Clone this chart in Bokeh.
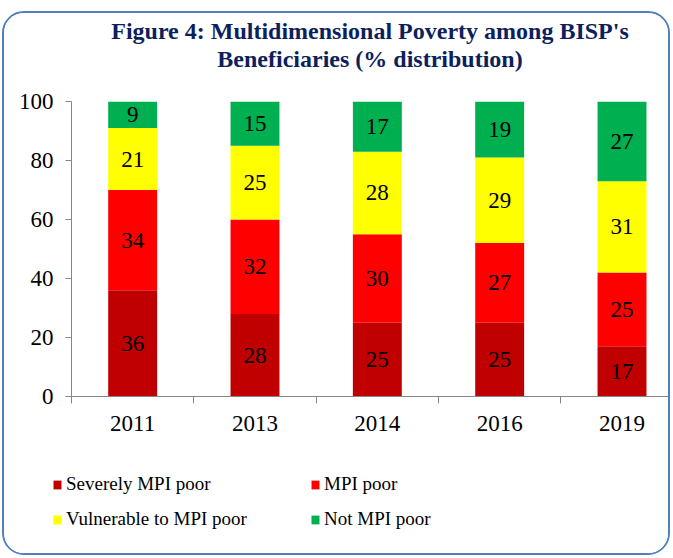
from bokeh.plotting import figure
from bokeh.layouts import column, row
from bokeh.models import Range1d, FixedTicker, Title, Legend, LegendItem, ColumnDataSource
from bokeh.core.properties import value
from bokeh.embed import file_html
from bokeh.resources import INLINE

years = ["2011", "2013", "2014", "2016", "2019"]
severe = [36, 28, 25, 25, 17]
mpi_poor = [34, 32, 30, 27, 25]
vulnerable = [21, 25, 28, 29, 31]
not_poor = [9, 15, 17, 19, 27]
series_names = ["Severely MPI poor", "MPI poor", "Vulnerable to MPI poor", "Not MPI poor"]
colors = ["#C00000", "#FF0000", "#FFFF00", "#00B050"]
y_ticks = [0, 20, 40, 60, 80, 100]

FONT = "Liberation Serif"
TITLE_COLOR = "#0D1F5C"
AXIS_COLOR = "#868686"

xpos = [i + 0.5 for i in range(len(years))]
keys = ["severe", "mpi", "vuln", "notp"]
src = ColumnDataSource(dict(x=xpos, severe=severe, mpi=mpi_poor, vuln=vulnerable, notp=not_poor))

# ---------------- main chart ----------------
p = figure(width=664, height=437, output_backend="svg", toolbar_location=None,
           x_range=Range1d(0, 4.88), y_range=Range1d(0, 100),
           min_border_left=67, min_border_right=0, min_border_top=88, min_border_bottom=54)
p.outline_line_color = None
p.xgrid.visible = False
p.ygrid.visible = False
p.background_fill_color = "white"
p.border_fill_color = "white"

rs = p.vbar_stack(keys, x="x", width=0.4, color=colors, line_color=None, source=src)

lx, ly, lt = [], [], []
series = [severe, mpi_poor, vulnerable, not_poor]
for i in range(len(years)):
    base = 0
    for s in series:
        v = s[i]
        lx.append(xpos[i])
        ly.append(base + v / 2)
        lt.append(str(v))
        base += v
p.text(x=lx, y=ly, text=lt, text_align="center", text_baseline="middle",
       text_font=value(FONT), text_font_size="23px", text_color="black")

p.xaxis.ticker = FixedTicker(ticks=xpos, minor_ticks=list(range(len(years) + 1)))
p.xaxis.major_label_overrides = {x: y for x, y in zip(xpos, years)}
p.xaxis.major_tick_out = 0
p.xaxis.major_tick_in = 0
p.xaxis.minor_tick_out = 7
p.xaxis.minor_tick_in = 0
p.yaxis.ticker = FixedTicker(ticks=y_ticks)
p.yaxis.major_tick_out = 6
p.yaxis.major_tick_in = 0
for ax in (p.xaxis, p.yaxis):
    ax.axis_line_color = AXIS_COLOR
    ax.major_tick_line_color = AXIS_COLOR
    ax.minor_tick_line_color = AXIS_COLOR
    ax.major_label_text_font = FONT
    ax.major_label_text_font_size = "23px"
    ax.major_label_text_color = "black"
p.yaxis.minor_tick_line_color = None
p.xaxis.major_label_standoff = 12
p.yaxis.major_label_standoff = 12

spacer = Title(text=" ", align="center", text_font=FONT, text_font_size="24px", standoff=2)
t2 = Title(text="Beneficiaries (% distribution)", align="center", text_font=FONT,
           text_font_size="24px", text_font_style="bold", text_color=TITLE_COLOR,
           standoff=0, offset=-3)
t1 = Title(text="Figure 4: Multidimensional Poverty among BISP's", align="center", text_font=FONT,
           text_font_size="24px", text_font_style="bold", text_color=TITLE_COLOR,
           standoff=0, offset=-3)
p.add_layout(spacer, "above")
p.add_layout(t2, "above")
p.add_layout(t1, "above")

# ---------------- legend strip ----------------
p2 = figure(width=664, height=103, output_backend="svg", toolbar_location=None,
            x_range=Range1d(-10, -9), y_range=Range1d(0, 1),
            x_axis_type=None, y_axis_type=None, min_border=0)
p2.outline_line_color = None
p2.xgrid.visible = False
p2.ygrid.visible = False
p2.border_fill_color = "white"
lr = p2.vbar_stack(keys, x="x", width=0.4, color=colors, line_color=None, source=src)

def mk_legend(idx, loc):
    lg = Legend(items=[LegendItem(label=series_names[k], renderers=[lr[k]]) for k in idx],
                location=loc, orientation="vertical",
                label_text_font=FONT, label_text_font_size="19px", label_text_color="black",
                glyph_width=10, glyph_height=11, label_standoff=4, label_height=24,
                spacing=11, padding=0, margin=0, border_line_color=None,
                background_fill_alpha=0)
    p2.add_layout(lg)

mk_legend([0, 2], (48, 22))
mk_legend([1, 3], (306, 22))

layout = column(p, row(p2), spacing=0,
                styles={"border": "2px solid #4F81BD", "border-radius": "22px",
                        "margin-left": "2px", "margin-top": "11px",
                        "background-color": "white", "overflow": "hidden"})

open("out.html", "w").write(file_html(layout, INLINE))
